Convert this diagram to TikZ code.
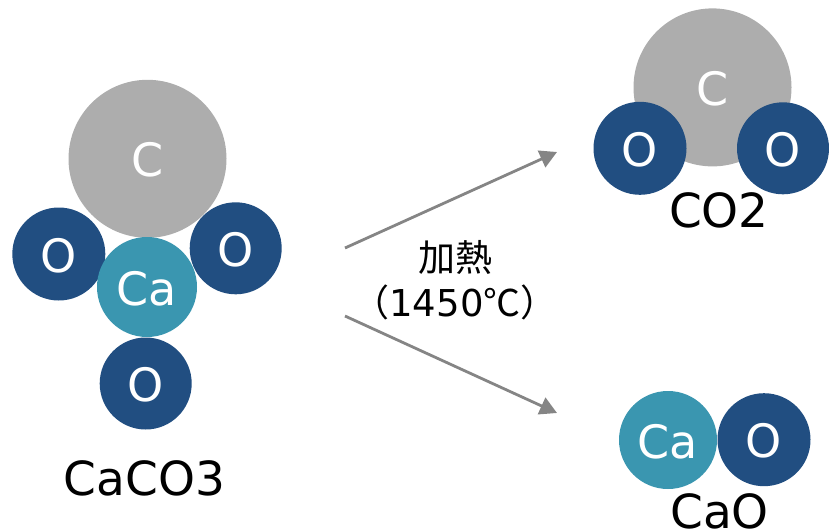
\documentclass[tikz,border=0pt]{standalone}
\usepackage{fontspec}
\setmainfont{DejaVu Sans}
\newfontfamily\cjk{Noto Sans CJK JP}
\usetikzlibrary{arrows.meta}

\definecolor{OxygenBlue}{HTML}{214E81}
\definecolor{CalciumTeal}{HTML}{3A96B0}
\definecolor{CarbonGray}{HTML}{ADADAD}
\definecolor{ArrowGray}{HTML}{858585}

\begin{document}
\begin{tikzpicture}[
    x=1pt,y=-1pt,
    % Environment Config
    Atom/.style={% Style for every atom
      circle,
      draw=none,
      inner sep=0pt,
      minimum size=#1,
      text=white,
      text height=36pt,
      text depth=0pt,
      font=\fontsize{46}{50}\selectfont
    },
    Carbon/.style={Atom=#1,fill=CarbonGray},
    Calcium/.style={Atom=#1,fill=CalciumTeal},
    Oxygen/.style={Atom=#1,fill=OxygenBlue},
    Formula/.style={% Style for the names under the molecules
      anchor=base,
      inner sep=0pt,
      font=\fontsize{47}{50}\selectfont
    },
    MyArrow/.style={% Style for the reaction arrows
      -{Triangle[length=17pt,width=18pt]},
      ArrowGray,
      line width=2.8pt
    }
  ]

  \useasboundingbox (0,0) rectangle (829,530);

  %===CaCO3===
  \node[Carbon=158pt] (C1) at (147.5,158.8) {C};
  \node[Oxygen=93pt] (O1) at (58.8,254) {O};
  \node[Oxygen=92pt] (O2) at (235.7,248.3) {O};
  \node[Calcium=100pt] (Ca1) at (147,287) {Ca};
  \node[Oxygen=92pt] (O3) at (145.7,383.5) {O};
  \node[Formula] (CaCO3) at (144.5,495) {CaCO3};

  %===CO2===
  \node[Carbon=158pt] (C2) at (712.5,87.4) {C};
  \node[Oxygen=93pt] (O4) at (640,148.3) {O};
  \node[Oxygen=92pt] (O5) at (783,148.3) {O};
  \node[Formula] (CO2) at (719,227) {CO2};

  %===CaO===
  \node[Calcium=98pt] (Ca2) at (668,440) {Ca};
  \node[Oxygen=93pt] (O6) at (764,439.7) {O};
  \node[Formula] (CaO) at (719.5,528) {CaO};

  %===Heating===
  \node[align=center,inner sep=0pt,font=\fontsize{37}{45}\selectfont] (Heat) at (455,280)
      {{\cjk 加熱}\\{\cjk （}1450{\cjk ℃）}};

  % Draw the arrows
  \coordinate (Start1) at (345,248);
  \coordinate (End1) at (557,152);
  \coordinate (Start2) at (345,316);
  \coordinate (End2) at (557,413);
  \draw[MyArrow] (Start1) -- (End1);
  \draw[MyArrow] (Start2) -- (End2);

\end{tikzpicture}
\end{document}
